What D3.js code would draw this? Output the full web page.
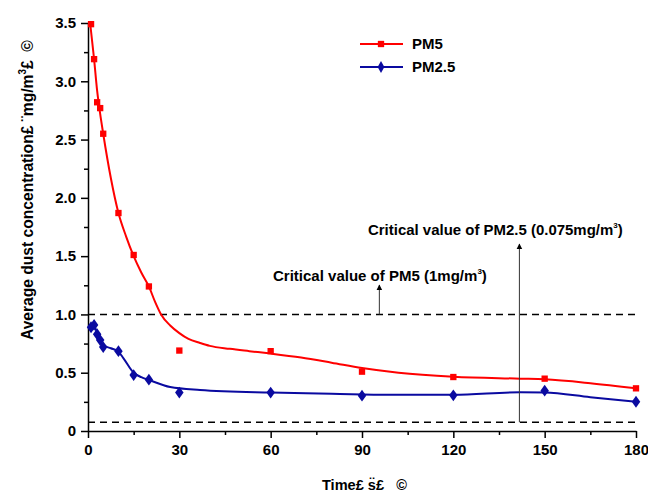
<!DOCTYPE html>
<html>
<head>
<meta charset="utf-8">
<script src="https://cdn.jsdelivr.net/npm/d3@7.9.0/dist/d3.min.js"></script>
<style>
  body { margin: 0; background: #fff; }
  svg { font-family: "Liberation Sans", Arial, sans-serif; font-weight: bold; }
</style>
</head>
<body>
<svg id="chart" width="648" height="493"></svg>
<script>
// measured points
const timeS = [1, 2, 3, 4, 5, 10, 15, 20, 30, 60, 90, 120, 150, 180];
const pm5 = [3.49, 3.19, 2.82, 2.77, 2.55, 1.87, 1.51, 1.24, 0.69, 0.685, 0.509, 0.463, 0.449, 0.366];
const pm25 = [0.89, 0.91, 0.83, 0.78, 0.72, 0.685, 0.48, 0.44, 0.33, 0.33, 0.303, 0.306, 0.346, 0.251];

// fitted curves
const fitTime5 = [0.7, 2, 3, 4, 5, 7.5, 10, 12.5, 15, 17.5, 20, 22, 24, 27, 30, 33, 36.8, 40, 46.6, 53, 60, 70, 80, 90, 102, 120, 142, 150, 165, 180];
const fitPm5 = [3.5, 3.19, 2.92, 2.72, 2.55, 2.17, 1.87, 1.67, 1.5, 1.36, 1.24, 1.11, 1.0, 0.905, 0.84, 0.79, 0.755, 0.73, 0.705, 0.685, 0.664, 0.63, 0.586, 0.54, 0.5, 0.466, 0.449, 0.443, 0.41, 0.366];
const fitTime25 = [0.7, 2, 3, 4, 5, 7.5, 10, 11.6, 15, 17.5, 20, 27, 36.8, 60, 80, 99, 120, 142, 150, 165, 180];
const fitPm25 = [0.885, 0.9, 0.84, 0.78, 0.735, 0.71, 0.68, 0.626, 0.5, 0.462, 0.438, 0.377, 0.352, 0.33, 0.32, 0.31, 0.31, 0.332, 0.33, 0.29, 0.251];

const xTicks = [0, 30, 60, 90, 120, 150, 180];
const yTicks = [0, 0.5, 1.0, 1.5, 2.0, 2.5, 3.0, 3.5];
const limitPm5 = 1.0, limitPm25 = 0.075;

const margin = { top: 23, right: 12, bottom: 62, left: 88 };
const W = 648, H = 493;
const svg = d3.select('#chart');

const x = d3.scaleLinear().domain([0, 180]).range([margin.left, W - margin.right]);
const y = d3.scaleLinear().domain([0, 3.5]).range([H - margin.bottom, margin.top]);

// stretch a text element horizontally so it spans the wanted width
function fitWidth(sel, x0, y0, width, rotate) {
  const w = sel.node().getBBox().width;
  sel.attr('transform', `translate(${x0},${y0})${rotate ? ' rotate(-90)' : ''} scale(${width / w},1)`);
}

// axes
svg.append('g').attr('transform', `translate(0,${H - margin.bottom})`)
  .call(d3.axisBottom(x).tickValues(xTicks).tickSize(7).tickSizeOuter(0).tickPadding(6));
svg.append('g').attr('transform', `translate(0,${H - margin.bottom})`)
  .call(d3.axisBottom(x).tickValues(d3.range(15, 180, 30)).tickSize(4).tickFormat(''))
  .select('.domain').remove();

svg.append('g').attr('transform', `translate(${margin.left},0)`)
  .call(d3.axisLeft(y).tickValues(yTicks).tickSize(7).tickSizeOuter(0).tickPadding(5)
    .tickFormat(d => d === 0 ? '0' : d3.format('.1f')(d)));
svg.append('g').attr('transform', `translate(${margin.left},0)`)
  .call(d3.axisLeft(y).tickValues(d3.range(0.25, 3.5, 0.5)).tickSize(4).tickFormat(''))
  .select('.domain').remove();

svg.selectAll('.domain, .tick line').attr('stroke', '#000').attr('stroke-width', 1.5);
svg.selectAll('.tick text').attr('font-size', 15).attr('font-family', '"Liberation Sans", Arial, sans-serif')
  .attr('font-weight', 'bold').attr('fill', '#000');

// critical lines
[limitPm5, limitPm25].forEach(v => {
  svg.append('line')
    .attr('x1', x(0)).attr('x2', x(180)).attr('y1', y(v)).attr('y2', y(v))
    .attr('stroke', '#000').attr('stroke-width', 1.5).attr('stroke-dasharray', '7,5');
});

// fitted curves
const line = d3.line().x(d => x(d[0])).y(d => y(d[1])).curve(d3.curveMonotoneX);
svg.append('path').datum(d3.zip(fitTime5, fitPm5)).attr('d', line)
  .attr('fill', 'none').attr('stroke', '#ff0000').attr('stroke-width', 2);
svg.append('path').datum(d3.zip(fitTime25, fitPm25)).attr('d', line)
  .attr('fill', 'none').attr('stroke', '#0a0aa0').attr('stroke-width', 2);

// markers
const square = d3.symbol().type(d3.symbolSquare).size(40);
const diamond = d3.symbol().type(d3.symbolDiamond).size(40);
svg.append('g').selectAll('path').data(d3.zip(timeS, pm5)).join('path')
  .attr('d', square).attr('fill', '#ff0000')
  .attr('transform', d => `translate(${x(d[0])},${y(d[1])})`);
svg.append('g').selectAll('path').data(d3.zip(timeS, pm25)).join('path')
  .attr('d', diamond).attr('fill', '#0a0aa0')
  .attr('transform', d => `translate(${x(d[0])},${y(d[1])}) scale(1.25,1)`);

// arrows + annotation text
svg.append('defs').append('marker')
  .attr('id', 'arrow').attr('viewBox', '0 0 10 10').attr('refX', 9).attr('refY', 5)
  .attr('markerWidth', 6).attr('markerHeight', 9).attr('orient', 'auto')
  .attr('markerUnits', 'userSpaceOnUse')
  .append('path').attr('d', 'M0,0L10,5L0,10Z').attr('fill', '#000');

function annotate(xv, yFrom, yTo, label, tx, ty, width) {
  svg.append('line')
    .attr('x1', x(xv)).attr('x2', x(xv)).attr('y1', yFrom).attr('y2', yTo)
    .attr('stroke', '#333').attr('stroke-width', 1).attr('marker-end', 'url(#arrow)');
  const t = svg.append('text').attr('font-size', 15);
  t.append('tspan').text(label);
  t.append('tspan').text('3').attr('font-size', 8).attr('dy', -7);
  t.append('tspan').text(')').attr('dy', 7);
  fitWidth(t, tx, ty, width);
}
annotate(95.7, y(limitPm5), 285, 'Critical value of PM5 (1mg/m', 273, 281, 214);
annotate(141.7, y(limitPm25), 244, 'Critical value of PM2.5 (0.075mg/m', 368, 235, 255);

// legend
const legend = [
  { name: 'PM5', color: '#ff0000', sym: square, yy: 44 },
  { name: 'PM2.5', color: '#0a0aa0', sym: diamond, yy: 67 }
];
legend.forEach(l => {
  svg.append('line').attr('x1', 360).attr('x2', 403).attr('y1', l.yy).attr('y2', l.yy)
    .attr('stroke', l.color).attr('stroke-width', 2);
  svg.append('path').attr('d', l.sym).attr('fill', l.color)
    .attr('transform', `translate(381,${l.yy})`);
  svg.append('text').attr('x', 412).attr('y', l.yy + 5).attr('font-size', 15).text(l.name);
});

// axis titles (nbsp keeps the gaps of the garbled original)
const xt = svg.append('text').attr('font-size', 15).text('Time£\u00a0s\u0308£\u00a0\u00a0\u00a0©');
fitWidth(xt, 322, 490, 85);

const yt = svg.append('text').attr('font-size', 16);
yt.append('tspan').text('Average dust concentration£\u00a0\u00a8mg/m');
yt.append('tspan').text('3').attr('font-size', 10).attr('dy', -7);
yt.append('tspan').text('£\u00a0\u00a0©').attr('dy', 7);
fitWidth(yt, 33, 340, 300, true);
</script>
</body>
</html>
